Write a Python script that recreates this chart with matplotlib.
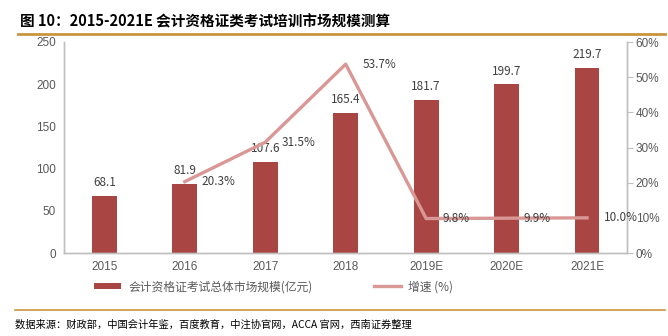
import matplotlib
matplotlib.use("Agg")
import matplotlib.pyplot as plt
from matplotlib.lines import Line2D
from matplotlib.patches import Patch

plt.rcParams['font.family'] = ['Noto Sans CJK SC', 'DejaVu Sans']

categories = ['2015', '2016', '2017', '2018', '2019E', '2020E', '2021E']
market_size = [68.1, 81.9, 107.6, 165.4, 181.7, 199.7, 219.7]
growth_cats = ['2016', '2017', '2018', '2019E', '2020E', '2021E']
growth = [20.3, 31.5, 53.7, 9.8, 9.9, 10.0]
left_ticks = [0, 50, 100, 150, 200, 250]
right_ticks = [0, 10, 20, 30, 40, 50, 60]

bar_color = '#A94643'
line_color = '#D99795'
grey = '#595959'
spine_grey = '#BFBFBF'
tick_font = ['Liberation Sans', 'DejaVu Sans']

fig = plt.figure(figsize=(6.68, 3.36), dpi=100)
ax = fig.add_axes([0.096, 0.247, 0.843, 0.628])
ax2 = ax.twinx()

x = list(range(len(categories)))
ax.bar(x, market_size, width=0.31, color=bar_color, zorder=2)
for xi, v in zip(x, market_size):
    ax.annotate(f'{v:.1f}', (xi, v), xytext=(0, 5), textcoords='offset points',
                ha='center', va='bottom', fontsize=8.5, color='#404040')

ax.set_xlim(-0.5, len(categories) - 0.5)
ax.set_ylim(0, 250)
ax.set_yticks(left_ticks)
ax.set_xticks(x)
ax.set_xticklabels(categories)
ax.tick_params(axis='both', colors=grey, labelsize=8.5, length=0)
ax.tick_params(axis='y', pad=6)
ax.tick_params(axis='x', pad=6)
for lab in ax.get_xticklabels() + ax.get_yticklabels():
    lab.set_family(tick_font)

gx = [categories.index(c) for c in growth_cats]
ax2.plot(gx, growth, color=line_color, lw=2.4, zorder=3)
for xi, v in zip(gx, growth):
    ax2.annotate(f'{v:.1f}%', (xi, v), xytext=(12, 0), textcoords='offset points',
                 ha='left', va='center', fontsize=8.5, color='#404040')
ax2.set_ylim(0, 60)
ax2.set_yticks(right_ticks)
ax2.set_yticklabels([f'{t}%' for t in right_ticks])
ax2.tick_params(axis='y', colors=grey, labelsize=8.5, length=4, direction='out', pad=2)
ax2.tick_params(axis='y', color=spine_grey)
for lab in ax2.get_yticklabels():
    lab.set_family(tick_font)

for a in (ax, ax2):
    a.spines['top'].set_visible(False)
    for s in ('left', 'right', 'bottom'):
        a.spines[s].set_color(spine_grey)
        a.spines[s].set_linewidth(1)

# title
fig.text(0.03, 0.935, '图 10：2015-2021E 会计资格证类考试培训市场规模测算',
         fontsize=10.5, fontweight='bold', color='#000000', ha='left', va='center')
fig.add_artist(Line2D([0.027, 0.995], [0.898, 0.898], color='#C8963E', lw=2))

# legend
handles = [Patch(facecolor=bar_color, edgecolor='none'),
           Line2D([0], [0], color=line_color, lw=2.4)]
labels = ['会计资格证考试总体市场规模(亿元)', '增速 (%)']
leg = fig.legend(handles, labels, loc='center', bbox_to_anchor=(0.41, 0.147),
                 ncol=2, frameon=False, prop={'size': 8.5}, columnspacing=5.2,
                 handlelength=2.3, handleheight=0.5, handletextpad=0.6)
for t in leg.get_texts():
    t.set_color(grey)

fig.add_artist(Line2D([0.022, 0.995], [0.078, 0.078], color='#C8963E', lw=1.2))
fig.text(0.022, 0.033, '数据来源：财政部，中国会计年鉴，百度教育，中注协官网，ACCA 官网，西南证券整理',
         fontsize=7.4, style='italic', color='#000000', ha='left', va='center')

fig.savefig('out.png', dpi=100)
